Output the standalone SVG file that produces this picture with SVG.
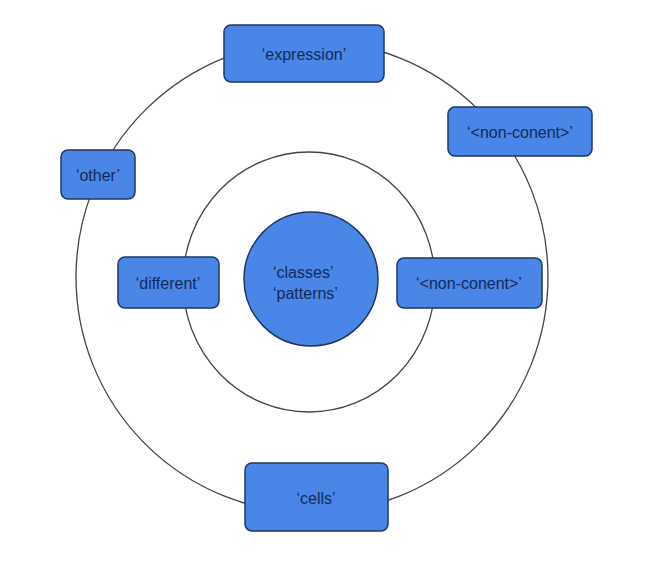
<svg xmlns="http://www.w3.org/2000/svg" width="651" height="577" viewBox="0 0 651 577">
<style>
.ring{fill:none;stroke:#444;stroke-width:1.3}
.box{fill:#4a86e8;stroke:#1f3760;stroke-width:1.5}
.t{font-family:"Liberation Sans",Arial,sans-serif;font-size:16px;fill:#132a57;text-anchor:middle;dominant-baseline:central}
</style>
<rect width="651" height="577" fill="#fff"/>
<g id="connectors">
<ellipse class="ring" cx="312" cy="277" rx="236" ry="236"/>
<ellipse class="ring" cx="309" cy="282" rx="126" ry="130"/>
</g>
<g id="center"><circle class="box" cx="311" cy="279" r="67"/>
<text class="t" x="273" y="272" style="text-anchor:start">‘classes’</text>
<text class="t" x="273" y="293" style="text-anchor:start">‘patterns’</text></g>
<g id="expression"><rect class="box" x="224" y="25" width="160" height="57" rx="7"/><text class="t" x="304" y="54">‘expression’</text></g>
<g id="nonconent1"><rect class="box" x="448" y="107" width="144" height="49" rx="7"/><text class="t" x="520" y="132">‘&lt;non-conent&gt;’</text></g>
<g id="other"><rect class="box" x="61" y="150" width="74" height="49" rx="7"/><text class="t" x="98" y="175">‘other’</text></g>
<g id="different"><rect class="box" x="118" y="257" width="101" height="51" rx="7"/><text class="t" x="168" y="283">‘different’</text></g>
<g id="nonconent2"><rect class="box" x="397" y="258" width="145" height="50" rx="7"/><text class="t" x="469" y="283">‘&lt;non-conent&gt;’</text></g>
<g id="cells"><rect class="box" x="245" y="463" width="143" height="68" rx="7"/><text class="t" x="316" y="498">‘cells’</text></g>
</svg>
